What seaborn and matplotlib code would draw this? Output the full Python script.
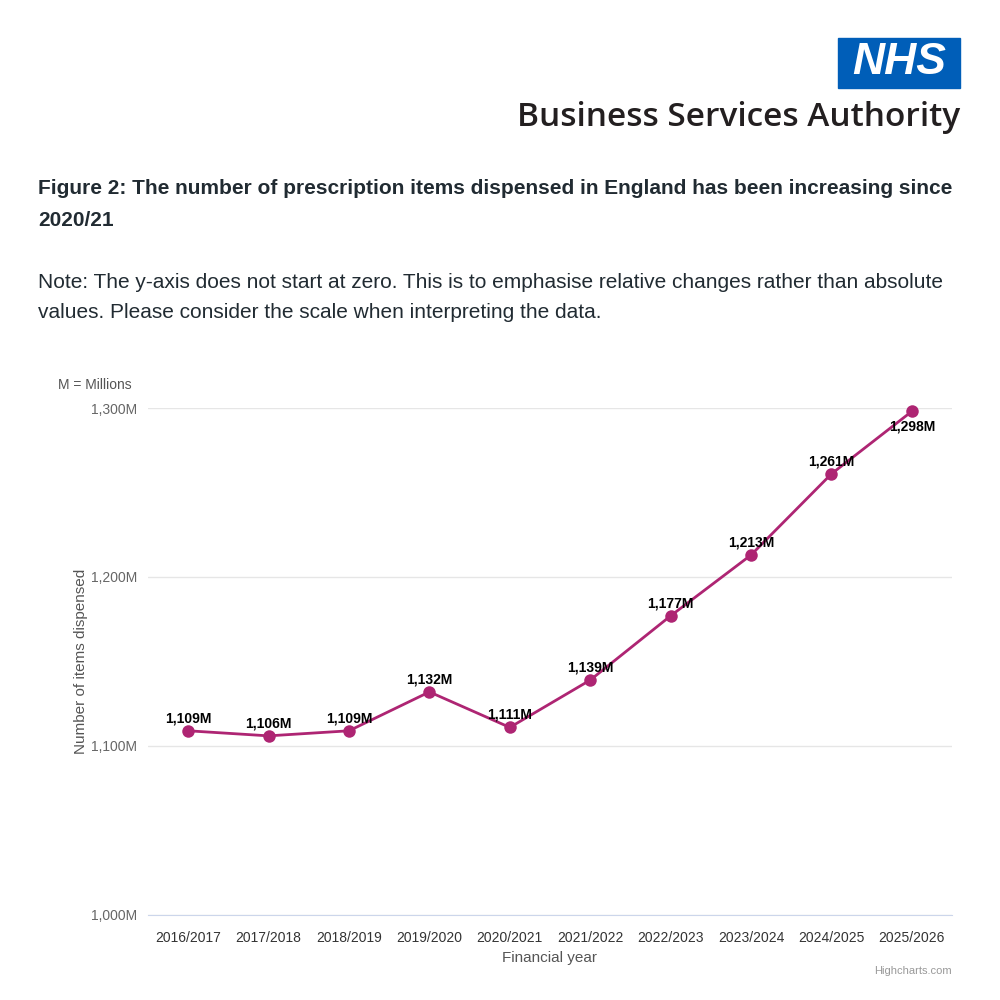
import matplotlib.pyplot as plt
import seaborn as sns
from matplotlib.patches import Rectangle

years = ["2016/2017", "2017/2018", "2018/2019", "2019/2020", "2020/2021",
         "2021/2022", "2022/2023", "2023/2024", "2024/2025", "2025/2026"]
items = [1109, 1106, 1109, 1132, 1111, 1139, 1177, 1213, 1261, 1298]
yticks = [1000, 1100, 1200, 1300]

sns.set_style("white")
plt.rcParams['font.family'] = ['Liberation Sans', 'DejaVu Sans']

fig = plt.figure(figsize=(10, 10), dpi=100)

# logo
fig.patches.append(Rectangle((0.838, 0.912), 0.122, 0.050, transform=fig.transFigure,
                             color="#005EB8", zorder=1))
fig.text(0.899, 0.937, "NHS", color="white", fontsize=32, fontweight="bold",
         fontstyle="italic", ha="center", va="center")
fig.text(0.960, 0.882, "Business Services Authority", color="#231f20", fontsize=24,
         fontweight="semibold", ha="right", va="center", family=["Open Sans", "DejaVu Sans"])

fig.text(0.038, 0.812, "Figure 2: The number of prescription items dispensed in England has been increasing since",
         fontsize=15, fontweight="bold", color="#212b32", va="center")
fig.text(0.038, 0.779, "2020/21", fontsize=15, fontweight="bold", color="#212b32", va="center")
fig.text(0.038, 0.718, "Note: The y-axis does not start at zero. This is to emphasise relative changes rather than absolute",
         fontsize=15, color="#212b32", va="center")
fig.text(0.038, 0.687, "values. Please consider the scale when interpreting the data.",
         fontsize=15, color="#212b32", va="center")

ax = fig.add_axes([0.148, 0.085, 0.804, 0.507])
x = list(range(len(years)))
sns.lineplot(x=x, y=items, ax=ax, color="#AE2573", linewidth=2,
             marker="o", markersize=9, markeredgewidth=0, clip_on=False)
for i, v in enumerate(items):
    dy = -6 if i == len(items) - 1 else 4
    ax.annotate(f"{v:,}M", (i, v), xytext=(0, dy), textcoords="offset points",
                ha="center", va="bottom" if dy > 0 else "top",
                fontsize=10, fontweight="bold", color="black")

ax.set_xlim(-0.5, len(years) - 0.5)
ax.set_ylim(1000, 1300)
ax.set_yticks(yticks)
ax.set_yticklabels([f"{t:,}M" for t in yticks], color="#666666", fontsize=10)
ax.set_xticks(x)
ax.set_xticklabels(years, color="#333333", fontsize=10)
ax.grid(axis="y", color="#e6e6e6", linewidth=1)
ax.set_axisbelow(True)
for s in ["top", "right", "left"]:
    ax.spines[s].set_visible(False)
ax.spines["bottom"].set_color("#ccd6eb")
ax.tick_params(axis="x", length=8, color="#ccd6eb")
ax.tick_params(axis="y", length=0, pad=8)
ax.set_xlabel("Financial year", color="#555555", fontsize=11)
ax.set_ylabel("Number of items dispensed", color="#555555", fontsize=11, labelpad=2)
ax.text(-0.02, 1.045, "M = Millions", transform=ax.transAxes, ha="right",
        va="center", fontsize=10, color="#555555")
fig.text(0.952, 0.026, "Highcharts.com", ha="right", fontsize=8, color="#999999")

fig.savefig("out.png")
